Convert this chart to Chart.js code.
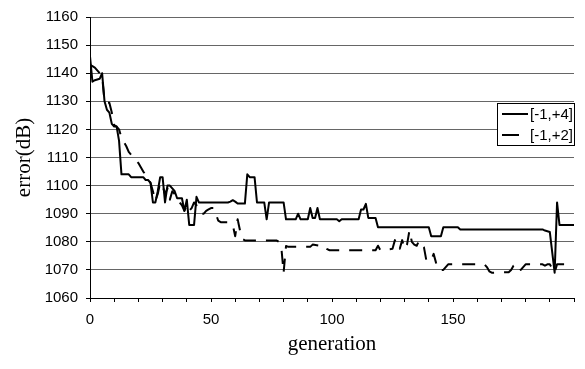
<!DOCTYPE html>
<html>
<head>
<meta charset="utf-8">
<script src="https://cdn.jsdelivr.net/npm/chart.js@4.4.1/dist/chart.umd.min.js"></script>
<style>
  html, body { margin: 0; padding: 0; background: #fff; }
  #chart { display: block; }
</style>
</head>
<body>
<canvas id="chart" width="585" height="369"></canvas>
<script>
// series [-1,+4] (solid) : generation / error at the points where it changes
const solidGen = [0, 1, 2, 4, 5, 6, 7, 8, 9, 10, 11, 12, 13, 16, 17, 22, 23, 24, 25, 26, 27, 28, 29, 30, 31, 32, 33, 34, 35, 36, 38, 39, 40, 41, 43, 44, 45, 57, 58, 59, 60, 61, 64, 65, 66, 68, 69, 72, 73, 74, 80, 81, 85, 86, 87, 90, 91, 92, 93, 94, 95, 102, 103, 104, 111, 112, 113, 114, 115, 118, 119, 140, 141, 145, 146, 152, 153, 187, 188, 190, 192, 193, 194, 200];
const solidErr = [1146, 1137, 1137.5, 1138, 1140, 1130, 1127, 1126, 1122, 1121, 1121, 1116, 1104, 1104, 1103, 1103, 1102, 1102, 1101, 1094, 1094, 1098, 1103, 1103, 1094, 1100, 1100, 1099, 1098, 1095.5, 1095.5, 1091, 1095, 1086, 1086, 1096, 1094, 1094, 1094.3, 1094.8, 1094.3, 1093.6, 1093.6, 1104, 1103, 1103, 1094, 1094, 1088, 1094, 1094, 1088, 1088, 1090, 1088, 1088, 1092, 1088.5, 1088.5, 1092, 1088, 1088, 1087.3, 1088, 1088, 1091.5, 1091.5, 1093.5, 1088.5, 1088.5, 1085.2, 1085.2, 1082, 1082, 1085.2, 1085.2, 1084.4, 1084.4, 1084, 1083.5, 1069, 1094, 1086, 1086];

// series [-1,+2] (dashed)
const dashGen = [0, 1, 2, 3, 4, 5, 6, 7, 8, 9, 10, 11, 12, 13, 14, 15, 16, 17, 18, 19, 20, 21, 22, 23, 24, 25, 26, 27, 28, 29, 30, 31, 32, 33, 34, 35, 36, 37, 38, 39, 40, 41, 42, 43, 44, 45, 46, 47, 48, 49, 50, 51, 52, 53, 54, 57, 58, 59, 60, 61, 62, 63, 64, 77, 78, 79, 80, 81, 82, 91, 92, 96, 97, 98, 99, 118, 119, 120, 125, 126, 127, 128, 129, 130, 131, 132, 133, 134, 135, 136, 137, 138, 139, 141, 142, 143, 144, 146, 147, 148, 163, 164, 165, 166, 173, 174, 175, 176, 177, 178, 179, 180, 187, 188, 189, 190, 192, 193, 200];
const dashErr = [1143, 1142.5, 1142, 1141, 1140, 1139, 1130, 1129.5, 1129.5, 1126, 1121.5, 1121, 1120, 1117, 1115.5, 1114, 1112, 1111, 1110, 1109, 1108, 1106.5, 1105, 1104, 1102.5, 1101, 1098, 1094.5, 1097, 1101, 1100, 1097, 1099, 1095, 1098, 1097, 1095, 1094, 1093, 1091, 1093, 1091, 1092, 1094, 1093, 1091.5, 1090, 1090, 1091, 1091.5, 1092, 1092, 1090, 1087.5, 1087, 1087, 1086.5, 1086, 1082, 1088, 1084, 1081, 1080.5, 1080.5, 1080, 1078.6, 1069, 1078.5, 1078.2, 1078.2, 1079, 1078.5, 1078.6, 1077.4, 1077, 1077, 1078.6, 1077, 1077.5, 1080.6, 1077.4, 1077.5, 1080.6, 1077.5, 1079, 1084, 1080, 1079, 1078.6, 1080.4, 1079, 1078, 1073.3, 1073.3, 1075.7, 1072.5, 1070, 1070, 1071, 1072, 1072, 1071, 1069.5, 1069, 1069.2, 1070, 1071.5, 1072, 1072, 1070, 1071, 1072, 1072, 1071.5, 1072, 1072, 1069, 1072, 1072];

const seriesLabels = ["[-1,+4]", "[-1,+2]"];
const xLabelValues = [0, 50, 100, 150];

function toPoints(gens, errs) {
  return gens.map((g, i) => ({ x: g, y: errs[i] }));
}

// legend drawn inside the plot, like the excel one
const boxLegend = {
  id: "boxLegend",
  afterDraw(chart) {
    const ctx = chart.ctx;
    const right = chart.chartArea.right + 1;
    const left = right - 78;
    const top = 103;
    const bottom = 146;
    ctx.save();
    ctx.fillStyle = "#fff";
    ctx.fillRect(left, top, right - left, bottom - top);
    ctx.strokeStyle = "#000";
    ctx.lineWidth = 1;
    ctx.strokeRect(left + 0.5, top + 0.5, right - left - 1, bottom - top - 1);
    const rows = [114, 135];
    chart.data.datasets.forEach((ds, i) => {
      const y = rows[i];
      ctx.strokeStyle = ds.borderColor;
      ctx.lineWidth = 2;
      ctx.setLineDash(ds.borderDash && ds.borderDash.length ? [17, 12] : []);
      ctx.beginPath();
      ctx.moveTo(left + 5, y);
      ctx.lineTo(left + 31, y);
      ctx.stroke();
      ctx.setLineDash([]);
      ctx.fillStyle = "#000";
      ctx.font = "15px Arial, 'Liberation Sans', sans-serif";
      ctx.textBaseline = "middle";
      ctx.textAlign = "left";
      ctx.fillText(ds.label, left + 33, y + 1);
    });
    ctx.restore();
  },
};

new Chart(document.querySelector("#chart"), {
  type: "line",
  data: {
    datasets: [
      {
        label: seriesLabels[0],
        data: toPoints(solidGen, solidErr),
        borderColor: "#000",
        borderWidth: 2,
        pointRadius: 0,
        tension: 0,
        borderJoinStyle: "round",
      },
      {
        label: seriesLabels[1],
        data: toPoints(dashGen, dashErr),
        borderColor: "#000",
        borderWidth: 2,
        borderDash: [13, 10],
        pointRadius: 0,
        tension: 0,
        borderJoinStyle: "round",
      },
    ],
  },
  options: {
    responsive: false,
    devicePixelRatio: 1,
    animation: false,
    layout: { padding: { top: 12, right: 11, left: 0, bottom: 0 } },
    plugins: {
      legend: { display: false },
      tooltip: { enabled: false },
    },
    scales: {
      x: {
        type: "linear",
        min: 0,
        max: 200,
        afterFit(scale) {
          scale.height = 71;
        },
        ticks: {
          stepSize: 10,
          autoSkip: false,
          maxRotation: 0,
          padding: 9,
          color: "#000",
          font: { family: "Arial, 'Liberation Sans', sans-serif", size: 15 },
          callback: (v) => (xLabelValues.includes(v) ? String(v) : ""),
        },
        grid: {
          drawOnChartArea: false,
          drawTicks: true,
          tickLength: 4,
          tickColor: "#000",
        },
        border: { color: "#000", width: 1 },
        title: {
          display: true,
          text: "generation",
          color: "#000",
          font: { family: "'Times New Roman', 'Liberation Serif', serif", size: 21 },
          padding: { top: 0, bottom: 12 },
        },
      },
      y: {
        min: 1060,
        max: 1160,
        afterFit(scale) {
          scale.width = 90;
        },
        ticks: {
          stepSize: 10,
          padding: 8,
          color: "#000",
          font: { family: "Arial, 'Liberation Sans', sans-serif", size: 15 },
          callback: (v) => String(v),
        },
        grid: {
          color: "#666",
          tickLength: 4,
          tickColor: "#000",
        },
        border: { color: "#000", width: 1 },
        title: {
          display: true,
          text: "error(dB)",
          color: "#000",
          font: { family: "'Times New Roman', 'Liberation Serif', serif", size: 21 },
          padding: { top: 12, bottom: 0 },
        },
      },
    },
  },
  plugins: [boxLegend],
});
</script>
</body>
</html>
